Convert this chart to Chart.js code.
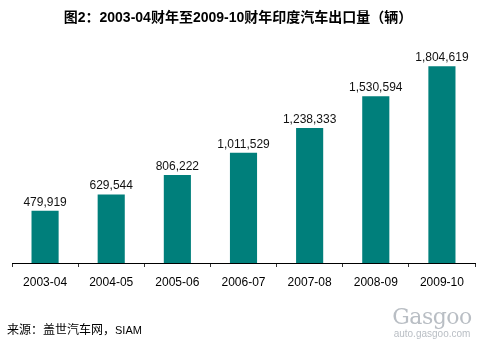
<!DOCTYPE html>
<html>
<head>
<meta charset="utf-8">
<script src="https://cdn.jsdelivr.net/npm/chart.js@4"></script>
<style>
  html, body { margin: 0; padding: 0; background: #fff; }
  #wrap { position: relative; width: 482px; height: 347px; overflow: hidden; }
  #chart { position: absolute; left: 0; top: 0; }
  .title {
    position: absolute; left: 0; top: 8px; width: 476px; text-align: center;
    font: bold 14px "Liberation Sans", "Noto Sans CJK SC", sans-serif; line-height: 18px; color: #000;
  }
  .source {
    position: absolute; left: 7px; top: 322px;
    font: 12px "Liberation Sans", "Noto Sans CJK SC", sans-serif; line-height: 16px; color: #000;
  }
  .source span { font-size: 11px; }
  .logo { position: absolute; left: 386px; top: 306px; width: 92px; text-align: center; color: #b9bec4; }
  .logo .brand { font: 22px "DejaVu Serif", serif; line-height: 22px; letter-spacing: -0.5px; }
  .logo .url { font: 10px "Liberation Sans", sans-serif; line-height: 12px; }
</style>
</head>
<body>
<div id="wrap">
  <canvas id="chart" width="482" height="347"></canvas>
  <div class="title">图2：2003-04财年至2009-10财年印度汽车出口量（辆）</div>
  <div class="source">来源：盖世汽车网，<span>SIAM</span></div>
  <div class="logo"><div class="brand">Gasgoo</div><div class="url">auto.gasgoo.com</div></div>
</div>
<script>
// 财年
const years = ['2003-04', '2004-05', '2005-06', '2006-07', '2007-08', '2008-09', '2009-10'];
// 出口量（辆）
const exports = [479919, 629544, 806222, 1011529, 1238333, 1530594, 1804619];

const barColor = '#007f7b';

// 柱顶数值
const valueLabels = {
  id: 'valueLabels',
  afterDatasetsDraw(chart) {
    const ctx = chart.ctx;
    const meta = chart.getDatasetMeta(0);
    ctx.save();
    ctx.font = '12px "Liberation Sans", sans-serif';
    ctx.fillStyle = '#111';
    ctx.textAlign = 'center';
    ctx.textBaseline = 'alphabetic';
    meta.data.forEach((bar, i) => {
      ctx.fillText(exports[i].toLocaleString('en-US'), bar.x, bar.y - 5);
    });
    ctx.restore();
  }
};

new Chart(document.getElementById('chart').getContext('2d'), {
  type: 'bar',
  data: {
    labels: years,
    datasets: [{
      data: exports,
      backgroundColor: barColor,
      categoryPercentage: 1,
      barPercentage: 0.41
    }]
  },
  options: {
    responsive: false,
    animation: false,
    layout: { padding: { top: 45, left: 12, right: 7, bottom: 0 } },
    plugins: {
      legend: { display: false },
      tooltip: { enabled: false }
    },
    scales: {
      x: {
        afterFit(scale) { scale.height = 84; },
        grid: { drawOnChartArea: false, tickLength: 4, color: '#333', offset: true },
        border: { color: '#000', width: 1 },
        ticks: { color: '#000', padding: 8, font: { family: '"Liberation Sans", sans-serif', size: 12 } }
      },
      y: { display: false, min: 0, max: 2000000 }
    }
  },
  plugins: [valueLabels]
});
</script>
</body>
</html>
